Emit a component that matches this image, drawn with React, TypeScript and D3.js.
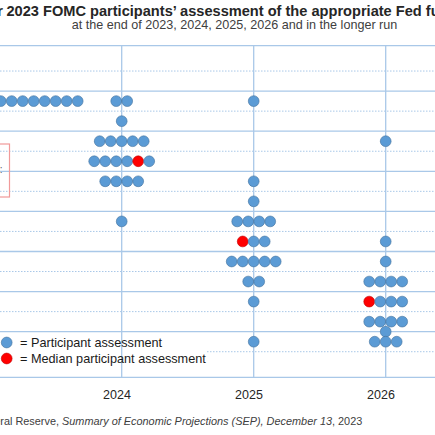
import * as d3 from "d3";

// Columns of the dot plot (projection years)
const years = ["2023", "2024", "2025", "2026", "Longer run"];
const yearLabels = ["2024", "2025", "2026"];

// Midpoints of the target ranges (percent) and number of participants at each
const rates2023 = [5.375];
const counts2023 = [19];
const rates2024 = [5.375, 5.125, 4.875, 4.625, 4.375, 3.875];
const counts2024 = [2, 1, 5, 6, 4, 1];
const rates2025 = [5.375, 4.375, 4.125, 3.875, 3.625, 3.375, 3.125, 2.875, 2.375];
const counts2025 = [1, 1, 1, 4, 3, 5, 2, 1, 1];
const rates2026 = [4.875, 3.625, 3.375, 3.125, 2.875, 2.625, 2.5, 2.375];
const counts2026 = [1, 1, 1, 4, 4, 4, 1, 3];

// median rate per year and which dot in that row is drawn red
const medians = [5.375, 4.625, 3.625, 2.875];
const medianSlot = [9, 4, 0, 0];

const gridRates = [2.25, 2.5, 2.75, 3, 3.25, 3.5, 3.75, 4, 4.25, 4.5, 4.75, 5, 5.25, 5.5, 5.75];

const W = 435;
const H = 435;
const FONT = "'Liberation Sans', Arial, Helvetica, sans-serif";
const BLUE = "#5b9bd5";
const BLUE_EDGE = "#41719c";
const RED = "#ff0000";
const GRID = "#a9c8e8";

export default function App() {
  const x = d3.scalePoint<string>().domain(years).range([-10.3, 517.7]);
  const y = d3.scaleLinear().domain([1.931, 6.066]).range([377.3, 45.7]);
  const step = 11;
  const r = 5.4;

  const groups = [
    { year: "2023", rates: rates2023, counts: counts2023, shift: -1 },
    { year: "2024", rates: rates2024, counts: counts2024, shift: 0 },
    { year: "2025", rates: rates2025, counts: counts2025, shift: 0 },
    { year: "2026", rates: rates2026, counts: counts2026, shift: 0 },
  ];

  const dots: { cx: number; cy: number; median: boolean }[] = [];
  groups.forEach((g, gi) => {
    g.rates.forEach((rate, ri) => {
      const n = g.counts[ri];
      for (let i = 0; i < n; i++) {
        dots.push({
          cx: (x(g.year) as number) + (i - (n - 1) / 2 + g.shift) * step,
          cy: y(rate),
          median: rate === medians[gi] && i === medianSlot[gi],
        });
      }
    });
  });

  const top = y.range()[1];
  const bottom = y.range()[0];

  return (
    <svg
      width={W}
      height={H}
      viewBox={`0 0 ${W} ${H}`}
      style={{ position: "fixed", left: 0, top: 0, background: "#fff" }}
      fontFamily={FONT}
    >
      <rect width={W} height={H} fill="#fff" />

      {/* title, clipped at both sides like the source */}
      <text x={2.8} y={15.7} textAnchor="end" fontSize={14.6} fontWeight="bold" fill="#262626">
        December
      </text>
      <text x={6.5} y={15.7} fontSize={14.6} fontWeight="bold" fill="#262626">
        2023 FOMC participants’ assessment of the appropriate Fed funds rate
      </text>
      <text x={234.5} y={29} textAnchor="middle" fontSize={12.6} fill="#404040">
        at the end of 2023, 2024, 2025, 2026 and in the longer run
      </text>

      {/* horizontal grid */}
      {gridRates.map((g) => {
        const solid = Math.abs(g * 2 - Math.round(g * 2)) < 1e-9;
        return (
          <line
            key={g}
            x1={0}
            x2={W}
            y1={y(g)}
            y2={y(g)}
            stroke={GRID}
            strokeWidth={solid ? 1.3 : 1}
            strokeDasharray={solid ? undefined : "1.5,1.5"}
          />
        );
      })}
      <line x1={0} x2={W} y1={top} y2={top} stroke={GRID} strokeWidth={1.3} />
      <line x1={0} x2={W} y1={bottom} y2={bottom} stroke={GRID} strokeWidth={1.3} />

      {/* annotation box at left edge */}
      <rect x={-60} y={144} width={69.5} height={53} fill="none" stroke="#f19a9a" strokeWidth={1.2} />
      <text x={2.5} y={173} textAnchor="end" fontSize={10} fill="#606060">
        Median:
      </text>

      {/* legend backing */}
      <rect x={-5} y={337} width={211} height={31} fill="#fff" />

      {/* vertical grid */}
      {years.map((yr) => (
        <line
          key={yr}
          x1={x(yr)}
          x2={x(yr)}
          y1={top}
          y2={bottom}
          stroke={GRID}
          strokeWidth={1.3}
        />
      ))}

      {/* dots */}
      {dots.map((d, i) => (
        <circle
          key={i}
          cx={d.cx}
          cy={d.cy}
          r={r}
          fill={d.median ? RED : BLUE}
          stroke={d.median ? "#c00000" : BLUE_EDGE}
          strokeWidth={0.6}
        />
      ))}

      {/* legend */}
      <circle cx={6.7} cy={342.5} r={r} fill={BLUE} stroke={BLUE_EDGE} strokeWidth={0.6} />
      <text x={20} y={347.3} fontSize={12.7} fill="#1a1a1a">
        = Participant assessment
      </text>
      <circle cx={6.7} cy={358.5} r={r} fill={RED} stroke="#c00000" strokeWidth={0.6} />
      <text x={20} y={363} fontSize={12.7} fill="#1a1a1a">
        = Median participant assessment
      </text>

      {/* x labels */}
      {yearLabels.map((yr) => (
        <text key={yr} x={(x(yr) as number) - 4.7} y={399} textAnchor="middle" fontSize={12.5} fill="#262626">
          {yr}
        </text>
      ))}

      {/* source */}
      <text x={0.3} y={424.5} textAnchor="end" fontSize={10.9} fill="#404040">
        Source: Fede
      </text>
      <text x={0.3} y={424.5} fontSize={10.9} fill="#404040">
        ral Reserve,{" "}
        <tspan fontStyle="italic">Summary of Economic Projections (SEP), December 13</tspan>, 2023
      </text>
    </svg>
  );
}
